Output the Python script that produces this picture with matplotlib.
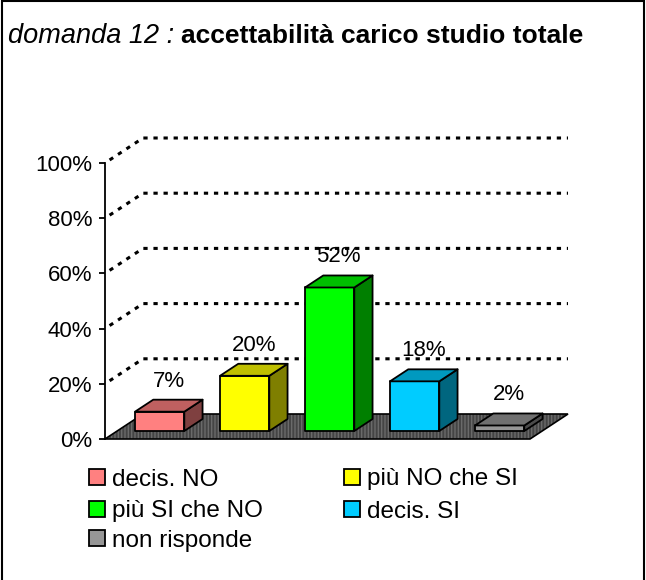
import matplotlib
matplotlib.use('Agg')
import matplotlib.pyplot as plt
from matplotlib.patches import Polygon, Rectangle
from matplotlib.lines import Line2D

plt.rcParams['font.family'] = ['Liberation Sans', 'DejaVu Sans']

# data
categories = ['decis. NO', 'più NO che SI', 'più SI che NO', 'decis. SI', 'non risponde']
values = [7, 20, 52, 18, 2]
value_labels = ['7%', '20%', '52%', '18%', '2%']
yticks = [0, 20, 40, 60, 80, 100]
ytick_labels = ['0%', '20%', '40%', '60%', '80%', '100%']
colors = ['#FF8080', '#FFFF00', '#00FF00', '#00CCFF', '#969696']


def shade(hex_color, f):
    r, g, b = (int(hex_color[i:i + 2], 16) for i in (1, 3, 5))
    return '#%02x%02x%02x' % (int(r * f), int(g * f), int(b * f))


W, H = 646, 580
fig = plt.figure(figsize=(W / 100, H / 100), dpi=100)

# axes placed so that one category = 85 px and 1% = 2.76 px
px_x, px_y = 85.0, 2.76
x0_px, y0_px = 105, 439
xlim = (-0.2, 5.7)
ylim = (-2, 112)
ax = fig.add_axes([(x0_px + xlim[0] * px_x) / W,
                   (H - (y0_px - ylim[0] * px_y)) / H,
                   (xlim[1] - xlim[0]) * px_x / W,
                   (ylim[1] - ylim[0]) * px_y / H])
ax.set_xlim(*xlim)
ax.set_ylim(*ylim)
ax.patch.set_visible(False)

# depth of the 3D box (in data units)
DX = 38 / px_x
DY = 25 / px_y
n = len(categories)

# floor
floor = [(0, 0), (n, 0), (n + DX, DY), (DX, DY)]
ax.add_patch(Polygon(floor, closed=True, facecolor='#444444', edgecolor='#6a6a6a',
                     hatch='|||||', lw=0, zorder=1))
ax.add_patch(Polygon(floor, closed=True, fill=False, edgecolor='black', lw=1.2, zorder=2))

# dotted gridlines: diagonal on side wall + horizontal on back wall
for v in yticks[1:]:
    ax.add_line(Line2D([0, DX, n + DX], [v, v + DY, v + DY], color='black', lw=2.2,
                       linestyle=(1.5, (1.4, 1.9)), zorder=1.5))

# bars
f0, f1 = 0.32, 0.80
bw = 0.58
for i, (v, c) in enumerate(zip(values, colors)):
    xl = i + 0.5 - bw / 2 + f0 * DX
    xr = xl + bw
    yb = f0 * DY
    yt = yb + v
    ddx = (f1 - f0) * DX
    ddy = (f1 - f0) * DY
    front = [(xl, yb), (xr, yb), (xr, yt), (xl, yt)]
    side = [(xr, yb), (xr + ddx, yb + ddy), (xr + ddx, yt + ddy), (xr, yt)]
    top = [(xl, yt), (xr, yt), (xr + ddx, yt + ddy), (xl + ddx, yt + ddy)]
    for poly, col in ((front, c), (side, shade(c, 0.5)), (top, shade(c, 0.75))):
        ax.add_patch(Polygon(poly, closed=True, facecolor=col, edgecolor='black',
                             lw=1.3, joinstyle='round', zorder=3))
    ax.text(i + 0.5 + 0.56 * DX, v + 14, value_labels[i], ha='center', va='center',
            fontsize=16, zorder=4)

# y axis
for s in ('top', 'right', 'bottom'):
    ax.spines[s].set_visible(False)
ax.spines['left'].set_bounds(0, 100)
ax.spines['left'].set_position(('data', 0))
ax.spines['left'].set_linewidth(1.3)
ax.set_xticks([])
ax.set_yticks(yticks)
ax.set_yticklabels(ytick_labels)
ax.tick_params(axis='y', direction='out', length=4, width=1.3, pad=5, labelsize=16)

# title
fig.text(8 / W, 1 - 43 / H, 'domanda 12 :', fontsize=19.5, style='italic', va='baseline')
fig.text(181 / W, 1 - 43 / H, 'accettabilità carico studio totale', fontsize=19,
         fontweight='bold', va='baseline')

# legend
col_sq = [89, 344]
col_tx = [112, 367]
row_top = [469, 501, 530]
sq = 16
for i, (name, c) in enumerate(zip(categories, colors)):
    col, row = i % 2, i // 2
    fig.add_artist(Rectangle((col_sq[col] / W, 1 - (row_top[row] + sq) / H), sq / W, sq / H,
                             transform=fig.transFigure, facecolor=c, edgecolor='black', lw=1.3))
    fig.text(col_tx[col] / W, 1 - (row_top[row] + sq + 0.5) / H, name, fontsize=17.5,
             va='baseline')

# outer frame
fig.add_artist(Rectangle((1.5 / W, -0.05), (W - 3.5) / W, 1.05 - 1.5 / H,
                         transform=fig.transFigure, fill=False, edgecolor='black', lw=1.5))

fig.savefig('out.png', dpi=100)
